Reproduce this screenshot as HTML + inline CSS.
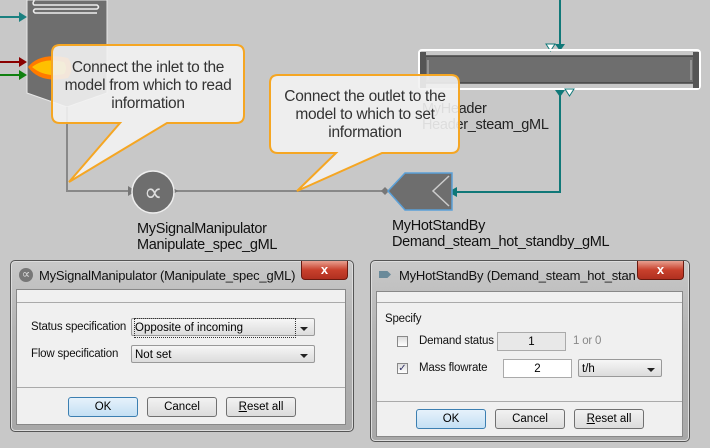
<!DOCTYPE html>
<html><head><style>
body{margin:0;width:710px;height:448px;background:#c8c8c8;position:relative;overflow:hidden;font-family:"Liberation Sans",sans-serif}
.a{position:absolute}
.dlg{position:absolute;background:linear-gradient(#c9c9c9,#b4b4b4 40%,#a8a8a8);border:1px solid #555;border-radius:5px;box-shadow:0 0 0 1px #ddd inset}
.ttl{position:absolute;top:7px;font-size:13px;color:#111;white-space:nowrap;overflow:hidden;letter-spacing:-0.2px}
.close{position:absolute;top:0;height:18px;background:linear-gradient(#e8a090,#c8402c 50%,#b03020);border:1px solid #6a1a10;border-top:none;border-radius:0 0 4px 4px;color:#fff;font-weight:bold;text-align:center;font-size:13px;line-height:17px}
.panel{position:absolute;background:#f0f0f0;border:1px solid #888}
.lbl{position:absolute;font-size:11.5px;color:#111;letter-spacing:-0.2px}
.combo{position:absolute;height:18px;border:1px solid #999;border-radius:2px;background:linear-gradient(#f6f6f6,#dcdcdc);font-size:11.5px;line-height:18px;padding-left:3px;box-sizing:border-box}
.combo:after{content:"";position:absolute;right:6px;top:8px;border:4px solid transparent;border-top:4px solid #222;border-bottom:none}
.btn{position:absolute;height:20px;border:1px solid #707070;border-radius:3px;background:linear-gradient(#f2f2f2,#dcdcdc);font-size:11.5px;text-align:center;line-height:19px;box-sizing:border-box}
.ok{border-color:#3c7fb1;background:linear-gradient(#e6f2fb,#c4e0f4)}
.fld{position:absolute;height:19px;border:1px solid #aaa;font-size:11.5px;text-align:center;line-height:18px;box-sizing:border-box}
.cb{position:absolute;width:11px;height:11px;border:1px solid #888;background:linear-gradient(#ddd,#fff);box-sizing:border-box}
svg text{letter-spacing:-0.3px}
</style></head><body>
<svg class="a" style="left:0;top:0" width="710" height="260">
<!-- boiler -->
<polygon points="27,0 107,0 107,93 67,107 27,93" fill="#6e6e6e" stroke="#e8e8e8" stroke-width="1"/>
<path d="M34,0 V1 Q32,3 34,5 H97 Q100,7 97,9 H35 Q32,11 35,13 H97" fill="none" stroke="#eee" stroke-width="1.5"/>
<line x1="0" y1="17" x2="22" y2="17" stroke="#1a8080" stroke-width="2"/><polygon points="27,17 19,12 19,22" fill="#1a8080"/>
<line x1="0" y1="62" x2="22" y2="62" stroke="#8a0000" stroke-width="2"/><polygon points="27,62 19,57 19,67" fill="#8a0000"/>
<line x1="0" y1="75" x2="22" y2="75" stroke="#108010" stroke-width="2"/><polygon points="27,75 19,70 19,80" fill="#108010"/>
<path d="M28,67 Q40,52 68,58 Q75,68 68,78 Q40,84 28,67Z" fill="#ff7a00"/>
<path d="M32,67 Q45,57 64,62 Q68,68 64,74 Q45,78 32,67Z" fill="#ffc000"/>
<!-- header -->
<line x1="560" y1="0" x2="560" y2="46" stroke="#107878" stroke-width="2"/>
<polygon points="555,44 565,44 560,51" fill="#107878"/><polygon points="546,44 555,44 550.5,51" fill="#fff" stroke="#107878"/>
<rect x="419" y="50" width="281" height="39" fill="none" stroke="#fff" stroke-width="2" rx="3"/>
<rect x="421" y="56" width="277" height="27" fill="#6e6e6e" stroke="#444" stroke-width="1.5"/>
<rect x="420" y="52" width="6" height="36" fill="#555"/><rect x="693" y="52" width="6" height="36" fill="#555"/>
<line x1="428" y1="60" x2="428" y2="80" stroke="#bbb"/><line x1="691" y1="60" x2="691" y2="80" stroke="#bbb"/>
<polygon points="555,90 565,90 560,97" fill="#107878"/><polygon points="565,89 574,89 569.5,96" fill="#fff" stroke="#107878"/>
<polyline points="560,95 560,192 456,192" fill="none" stroke="#107878" stroke-width="2"/>
<polygon points="448,192 457,187 457,197" fill="#107878"/>
<text x="422" y="113" font-size="14.5" fill="#222">MyHeader</text>
<text x="422" y="129" font-size="14.5" fill="#222">Header_steam_gML</text>
<!-- connectors -->
<polyline points="67,107 67,191 128,191" fill="none" stroke="#888" stroke-width="2"/>
<polygon points="136,191 128,186 128,196" fill="#777"/>
<line x1="175" y1="191" x2="384" y2="191" stroke="#888" stroke-width="2"/>
<polygon points="170,186 178,191 170,196" fill="#777"/>
<polygon points="385,187 389,191 385,195 381,191" fill="#777"/>
<circle cx="153" cy="192" r="21" fill="#6e6e6e" stroke="#eee" stroke-width="1.5"/>
<text x="153" y="201" font-size="26" fill="#ddd" text-anchor="middle">∝</text>
<polygon points="388,191 405,173 452,173 452,210 405,210" fill="#6e6e6e" stroke="#5aa0d8" stroke-width="1.5"/>
<polyline points="449,176 433,191 449,206" fill="none" stroke="#ccc" stroke-width="1.5"/>
<text x="137" y="233" font-size="14.5" fill="#111">MySignalManipulator</text>
<text x="137" y="249" font-size="14.5" fill="#111">Manipulate_spec_gML</text>
<text x="392" y="230" font-size="14.5" fill="#111">MyHotStandBy</text>
<text x="392" y="246" font-size="14.5" fill="#111">Demand_steam_hot_standby_gML</text>
<!-- callouts -->
<path d="M60,45 H236 Q244,45 244,53 V115 Q244,123 236,123 H167 L69,182 L120,123 H60 Q52,123 52,115 V53 Q52,45 60,45Z" fill="#f2f2f2" fill-opacity="0.9" stroke="#f5a623" stroke-width="2"/>
<text x="148" y="72" font-size="15.5" fill="#333" text-anchor="middle">Connect the inlet to the</text>
<text x="148" y="90" font-size="15.5" fill="#333" text-anchor="middle">model from which to read</text>
<text x="148" y="108" font-size="15.5" fill="#333" text-anchor="middle">information</text>
<path d="M278,75 H451 Q459,75 459,83 V145 Q459,153 451,153 H382 L297,191 L336,153 H278 Q270,153 270,145 V83 Q270,75 278,75Z" fill="#f2f2f2" fill-opacity="0.9" stroke="#f5a623" stroke-width="2"/>
<text x="365" y="101" font-size="15.5" fill="#333" text-anchor="middle">Connect the outlet to the</text>
<text x="365" y="119" font-size="15.5" fill="#333" text-anchor="middle">model to which to set</text>
<text x="365" y="137" font-size="15.5" fill="#333" text-anchor="middle">information</text>
</svg>

<!-- dialog 1 -->
<div class="dlg" style="left:10px;top:260px;width:342px;height:170px">
  <div class="a" style="left:8px;top:7px;width:14px;height:14px;border-radius:50%;background:#777;color:#ddd;font-size:12px;line-height:13px;text-align:center">∝</div>
  <div class="ttl" style="left:28px;width:260px">MySignalManipulator (Manipulate_spec_gML)</div>
  <div class="close" style="left:290px;width:45px">x</div>
  <div class="panel" style="left:5px;top:28px;width:328px;height:134px">
    <div class="a" style="left:0;top:12px;width:328px;border-top:1px solid #aaa"></div>
    <div class="a" style="left:0;top:97px;width:328px;border-top:1px solid #aaa"></div>
    <div class="lbl" style="left:14px;top:31px">Status specification</div>
    <div class="combo" style="left:114px;top:28px;width:184px"><span style="outline:1px dotted #333;display:inline-block;width:160px">Opposite of incoming</span></div>
    <div class="lbl" style="left:14px;top:58px">Flow specification</div>
    <div class="combo" style="left:114px;top:55px;width:184px">Not set</div>
    <div class="btn ok" style="left:51px;top:107px;width:70px">OK</div>
    <div class="btn" style="left:130px;top:107px;width:70px">Cancel</div>
    <div class="btn" style="left:209px;top:107px;width:70px"><u>R</u>eset all</div>
  </div>
</div>

<!-- dialog 2 -->
<div class="dlg" style="left:370px;top:260px;width:318px;height:180px">
  <div class="a" style="left:8px;top:10px;width:12px;height:7px;background:#6a8a9a;clip-path:polygon(0 0,70% 0,100% 50%,70% 100%,0 100%)"></div>
  <div class="ttl" style="left:28px;width:236px">MyHotStandBy (Demand_steam_hot_stand...</div>
  <div class="close" style="left:266px;width:45px">x</div>
  <div class="panel" style="left:5px;top:30px;width:305px;height:144px">
    <div class="a" style="left:0;top:10px;width:305px;border-top:1px solid #aaa"></div>
    <div class="a" style="left:0;top:109px;width:305px;border-top:1px solid #aaa"></div>
    <div class="lbl" style="left:8px;top:21px">Specify</div>
    <div class="cb" style="left:20px;top:44px"></div>
    <div class="lbl" style="left:42px;top:43px">Demand status</div>
    <div class="fld" style="left:120px;top:40px;width:69px;background:#e8e8e8">1</div>
    <div class="lbl" style="left:196px;top:43px;color:#888">1 or 0</div>
    <div class="cb" style="left:20px;top:71px;color:#336;font-size:10px;line-height:9px;text-align:center">✓</div>
    <div class="lbl" style="left:42px;top:70px">Mass flowrate</div>
    <div class="fld" style="left:126px;top:67px;width:69px;background:#fff">2</div>
    <div class="combo" style="left:201px;top:67px;width:84px">t/h</div>
    <div class="btn ok" style="left:39px;top:117px;width:70px">OK</div>
    <div class="btn" style="left:118px;top:117px;width:70px">Cancel</div>
    <div class="btn" style="left:197px;top:117px;width:70px"><u>R</u>eset all</div>
  </div>
</div>
</body></html>
